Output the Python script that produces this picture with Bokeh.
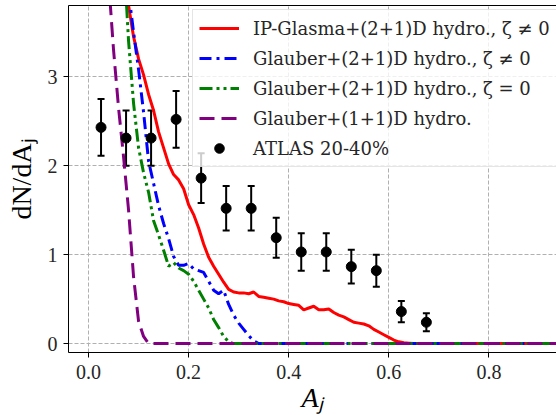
import numpy as np
from bokeh.plotting import figure
from bokeh.models import (ColumnDataSource, Range1d, FixedTicker, LinearAxis, Legend,
                          LegendItem, Whisker, TeeHead, PrintfTickFormatter)
from bokeh.embed import file_html
from bokeh.resources import INLINE

# ---------------- data ----------------
atlas_x = [0.025, 0.075, 0.125, 0.175, 0.225, 0.275, 0.325, 0.375, 0.425, 0.475, 0.525, 0.575, 0.625, 0.675]
atlas_y = [2.43, 2.31, 2.31, 2.52, 1.86, 1.52, 1.52, 1.19, 1.03, 1.03, 0.865, 0.82, 0.36, 0.24]
atlas_err = [0.32, 0.31, 0.31, 0.32, 0.28, 0.25, 0.25, 0.225, 0.21, 0.21, 0.19, 0.18, 0.12, 0.10]

ipg_x = [0.07, 0.08, 0.09, 0.10, 0.11, 0.12, 0.13, 0.14, 0.15, 0.16, 0.17, 0.18, 0.19, 0.20,
         0.21, 0.22, 0.23, 0.24, 0.25, 0.26, 0.27, 0.28, 0.29, 0.30, 0.31, 0.32, 0.33, 0.34,
         0.35, 0.36, 0.37, 0.38, 0.39, 0.40, 0.41, 0.42, 0.43, 0.44, 0.45, 0.46, 0.47, 0.48,
         0.49, 0.50, 0.51, 0.52, 0.53, 0.54, 0.55, 0.56, 0.57, 0.58, 0.59, 0.60, 0.61, 0.62,
         0.63, 0.64, 0.65, 0.70, 0.80, 0.90, 1.00]
ipg_y = [4.50, 3.80, 3.45, 3.20, 3.02, 2.80, 2.62, 2.38, 2.20, 2.02, 1.90, 1.84, 1.74, 1.56,
         1.45, 1.30, 1.12, 0.97, 0.87, 0.78, 0.69, 0.61, 0.58, 0.57, 0.57, 0.56, 0.58, 0.53,
         0.52, 0.51, 0.50, 0.48, 0.47, 0.45, 0.44, 0.43, 0.38, 0.40, 0.42, 0.38, 0.38, 0.39,
         0.35, 0.32, 0.30, 0.27, 0.24, 0.23, 0.22, 0.20, 0.16, 0.13, 0.10, 0.07, 0.04, 0.02,
         0.01, 0.005, 0.0, 0.0, 0.0, 0.0, 0.0]

gl_bulk_x = [0.075, 0.08, 0.09, 0.10, 0.11, 0.12, 0.13, 0.14, 0.15, 0.16, 0.17, 0.18, 0.19,
             0.20, 0.21, 0.22, 0.23, 0.24, 0.25, 0.26, 0.27, 0.28, 0.29, 0.30, 0.31, 0.32,
             0.33, 0.34, 0.40, 0.50, 0.60, 0.70, 0.80, 0.90, 1.00]
gl_bulk_y = [4.50, 3.95, 3.50, 3.08, 2.60, 2.05, 1.80, 1.55, 1.35, 1.18, 0.98, 0.88, 0.88,
             0.90, 0.84, 0.82, 0.80, 0.70, 0.60, 0.56, 0.60, 0.44, 0.32, 0.23, 0.16, 0.09,
             0.03, 0.0, 0.0, 0.0, 0.0, 0.0, 0.0, 0.0, 0.0]

gl_ideal_x = [0.07, 0.076, 0.08, 0.09, 0.10, 0.11, 0.12, 0.13, 0.14, 0.15, 0.16, 0.17, 0.18,
              0.19, 0.20, 0.21, 0.22, 0.23, 0.24, 0.25, 0.26, 0.27, 0.28, 0.29, 0.40, 0.50,
              0.60, 0.70, 0.80, 0.90, 1.00]
gl_ideal_y = [4.50, 3.80, 3.40, 2.70, 2.20, 1.92, 1.70, 1.38, 1.22, 1.05, 0.87, 0.91, 0.85,
              0.82, 0.78, 0.70, 0.60, 0.50, 0.40, 0.27, 0.18, 0.08, 0.02, 0.0, 0.0, 0.0,
              0.0, 0.0, 0.0, 0.0, 0.0]

gl11_x = [0.035, 0.043, 0.05, 0.06, 0.07, 0.08, 0.09, 0.10, 0.11, 0.12, 0.20, 0.30, 0.40,
          0.50, 0.60, 0.70, 0.80, 0.90, 1.00]
gl11_y = [4.60, 3.85, 3.30, 2.65, 2.10, 1.50, 0.75, 0.25, 0.08, 0.0, 0.0, 0.0, 0.0,
          0.0, 0.0, 0.0, 0.0, 0.0, 0.0]

x_ticks = [0.0, 0.2, 0.4, 0.6, 0.8, 1.0]
y_ticks = [0, 1, 2, 3]

labels = ["IP-Glasma+(2+1)D hydro., \u03b6 \u2260 0",
          "Glauber+(2+1)D hydro., \u03b6 \u2260 0",
          "Glauber+(2+1)D hydro., \u03b6 = 0",
          "Glauber+(1+1)D hydro.",
          "ATLAS 20-40%"]

FONT = "Liberation Serif"
LEG_FONT = "DejaVu Serif"

# ---------------- figure ----------------
p = figure(width=556, height=415, x_range=Range1d(-0.04, 0.935), y_range=Range1d(-0.1, 3.8),
           output_backend="svg", toolbar_location=None,
           min_border_left=68, min_border_right=0, min_border_top=5, min_border_bottom=0)
p.outline_line_color = None
p.background_fill_color = "white"
p.border_fill_color = "white"

for ax in (p.xaxis[0], p.yaxis[0]):
    ax.major_label_text_font = FONT
    ax.major_label_text_font_size = "20px"
    ax.major_label_text_color = "#262626"
    ax.axis_label_text_font = FONT
    ax.axis_label_text_font_size = "28px"
    ax.axis_label_text_color = "black"
    ax.minor_tick_line_color = None
    ax.major_tick_in = 0
    ax.major_tick_out = 5
    ax.major_tick_line_color = "black"
    ax.axis_line_color = "black"

p.xaxis[0].ticker = FixedTicker(ticks=x_ticks)
p.xaxis[0].formatter = PrintfTickFormatter(format="%.1f")
p.yaxis[0].ticker = FixedTicker(ticks=y_ticks)
p.xaxis[0].axis_label = "A\u2c7c"
p.xaxis[0].axis_label_text_font_style = "italic"
p.yaxis[0].axis_label = "dN/dA\u2c7c"
p.yaxis[0].axis_label_text_font_style = "normal"
p.xaxis[0].major_label_standoff = 7
p.xaxis[0].axis_label_standoff = 0
p.yaxis[0].major_label_standoff = 6
p.yaxis[0].axis_label_standoff = 8

top = LinearAxis(ticker=FixedTicker(ticks=[]), major_label_text_font_size="0px",
                 major_tick_line_color=None, minor_tick_line_color=None,
                 axis_line_color="black")
p.add_layout(top, "above")

for g in (p.xgrid[0], p.ygrid[0]):
    g.grid_line_color = "#b0b0b0"
    g.grid_line_dash = "4 2"
    g.grid_line_width = 1
p.xgrid[0].ticker = FixedTicker(ticks=x_ticks)
p.ygrid[0].ticker = FixedTicker(ticks=y_ticks)

r_ipg = p.line(ipg_x, ipg_y, line_color="#ff0000", line_width=3)
r_bulk = p.line(gl_bulk_x, gl_bulk_y, line_color="#0000ff", line_width=3, line_dash="12 5 3 5")
r_ideal = p.line(gl_ideal_x, gl_ideal_y, line_color="#008000", line_width=3, line_dash="13 4 3 4 3 4")
r_11 = p.line(gl11_x, gl11_y, line_color="#800080", line_width=3, line_dash="15 7")

src = ColumnDataSource(dict(x=atlas_x, y=atlas_y,
                            lo=[y - e for y, e in zip(atlas_y, atlas_err)],
                            hi=[y + e for y, e in zip(atlas_y, atlas_err)]))
wh = Whisker(source=src, base="x", lower="lo", upper="hi", dimension="height",
             line_color="black", line_width=2,
             lower_head=TeeHead(size=7, line_color="black", line_width=2),
             upper_head=TeeHead(size=7, line_color="black", line_width=2))
p.add_layout(wh)
r_atlas = p.scatter("x", "y", source=src, size=10, color="black")

legend = Legend(items=[LegendItem(label=labels[0], renderers=[r_ipg]),
                       LegendItem(label=labels[1], renderers=[r_bulk]),
                       LegendItem(label=labels[2], renderers=[r_ideal]),
                       LegendItem(label=labels[3], renderers=[r_11]),
                       LegendItem(label=labels[4], renderers=[r_atlas])],
                location=(124, 185))
legend.label_text_font = LEG_FONT
legend.label_text_font_size = "18px"
legend.label_text_color = "#262626"
legend.border_line_color = "#cccccc"
legend.border_line_width = 1
legend.background_fill_color = "white"
legend.background_fill_alpha = 0.8
legend.margin = 0
legend.padding = 6
legend.spacing = 6
legend.glyph_width = 40
legend.glyph_height = 24
legend.label_height = 24
legend.label_standoff = 14
p.add_layout(legend)

open("out.html", "w").write(file_html(p, INLINE))
